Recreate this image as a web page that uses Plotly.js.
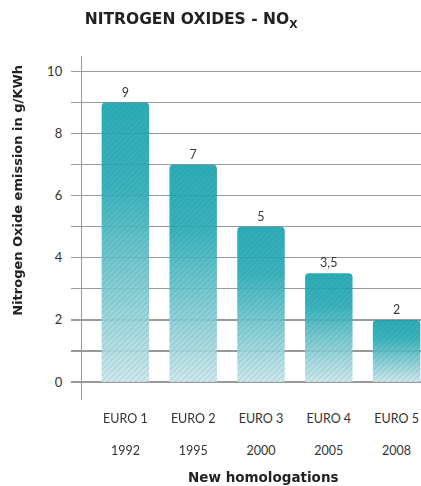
<!DOCTYPE html>
<html>
<head>
<meta charset="utf-8">
<script src="https://cdn.plot.ly/plotly-3.0.1.min.js"></script>
<style>html,body{margin:0;padding:0;background:#fff;}#chart{width:421px;height:486px;}</style>
</head>
<body>
<div id="chart"></div>
<script>
// ---- data ----
const standards = ["EURO 1", "EURO 2", "EURO 3", "EURO 4", "EURO 5"];
const years = ["1992", "1995", "2000", "2005", "2008"];
const noxValues = [9, 7, 5, 3.5, 2];
const valueLabels = ["9", "7", "5", "3,5", "2"];

const cats = standards.map((s, i) => s + "<br><br>" + years[i]);
const FONT = "Lato, 'DejaVu Sans', sans-serif";
const BOLD = "'DejaVu Sans', Lato, sans-serif";
const GRID = "#999999";

const base = {
  type: "bar",
  x: cats,
  y: noxValues,
  hoverinfo: "none"
};

const gradTrace = Object.assign({}, base, {
  marker: { color: "#5fbfc8", cornerradius: 4, line: { width: 0 } },
  opacity: 0.9,
  text: valueLabels,
  textposition: "outside",
  cliponaxis: false,
  textfont: { family: FONT, size: 12.5, color: "#222" }
});

const hatchTrace = Object.assign({}, base, {
  marker: {
    color: "rgba(0,0,0,0)",
    cornerradius: 4,
    line: { width: 0 },
    pattern: { shape: "/", size: 4, solidity: 0.35, fgcolor: "#0a7480", fgopacity: 0.16, bgcolor: "rgba(0,0,0,0)" }
  }
});

const layout = {
  width: 421, height: 486,
  margin: { l: 82, r: 0, t: 56, b: 86 },
  paper_bgcolor: "#fff", plot_bgcolor: "#fff",
  barmode: "overlay", bargap: 0.3,
  showlegend: false,
  font: { family: FONT, color: "#333" },
  title: {
    text: "<b>NITROGEN OXIDES - NO<sub>X</sub></b>",
    font: { family: BOLD, size: 15.5, color: "#222" },
    x: 0.454, xanchor: "center", xref: "container",
    y: 1 - 19 / 486, yanchor: "middle", yref: "container"
  },
  xaxis: {
    type: "category",
    range: [-0.64, 4.36],
    showgrid: false, zeroline: false, showline: false,
    ticks: "", tickfont: { family: FONT, size: 12.5, color: "#333" },
    ticklabelstandoff: 9,
    fixedrange: true
  },
  yaxis: {
    range: [-0.58, 10.5],
    tick0: 0, dtick: 2,
    showgrid: true, gridcolor: GRID, gridwidth: 1.2,
    zeroline: false,
    showline: true, linecolor: GRID, linewidth: 1.2,
    ticks: "outside", ticklen: 10, tickcolor: GRID, tickwidth: 1.2,
    minor: { dtick: 1, ticks: "outside", ticklen: 10, tickcolor: GRID, tickwidth: 1.2, showgrid: true, gridcolor: GRID, gridwidth: 1.2 },
    tickfont: { family: FONT, size: 13, color: "#333" },
    ticklabelstandoff: 6,
    fixedrange: true
  },
  annotations: [
    {
      text: "<b>New homologations</b>", xref: "paper", yref: "paper",
      x: 0.534, y: -0.224, xanchor: "center", yanchor: "middle", showarrow: false,
      font: { family: BOLD, size: 13.5, color: "#222" }
    },
    {
      text: "<b>Nitrogen Oxide emission in g/KWh</b>", xref: "paper", yref: "paper",
      x: -0.19, y: 0.61, xanchor: "center", yanchor: "middle", showarrow: false, textangle: -90,
      font: { family: BOLD, size: 13, color: "#222" }
    }
  ]
};

Plotly.newPlot("chart", [gradTrace, hatchTrace], layout, { displayModeBar: false, staticPlot: true }).then(gd => {
  const svg = gd.querySelector(".main-svg");
  const defs = svg.querySelector("defs");
  const ns = "http://www.w3.org/2000/svg";
  const lg = document.createElementNS(ns, "linearGradient");
  lg.setAttribute("id", "barGrad");
  lg.setAttribute("x1", "0"); lg.setAttribute("y1", "0");
  lg.setAttribute("x2", "0"); lg.setAttribute("y2", "1");
  [["0", "#17a4af"], ["0.3", "#27abb6"], ["1", "#cfe8ec"]].forEach(([o, c]) => {
    const st = document.createElementNS(ns, "stop");
    st.setAttribute("offset", o); st.setAttribute("stop-color", c);
    lg.appendChild(st);
  });
  defs.appendChild(lg);
  const traces = gd.querySelectorAll(".barlayer .trace.bars");
  if (traces.length) {
    traces[0].querySelectorAll(".point path").forEach(p => { p.style.fill = "url(#barGrad)"; });
  }
});
</script>
</body>
</html>
